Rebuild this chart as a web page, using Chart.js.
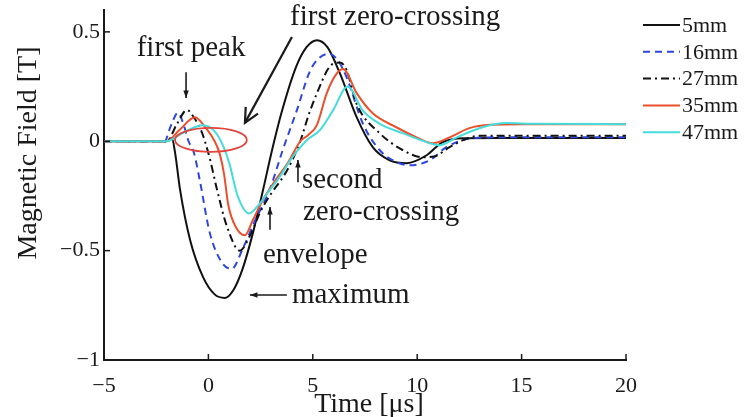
<!DOCTYPE html>
<html>
<head>
<meta charset="utf-8">
<script src="https://cdn.jsdelivr.net/npm/chart.js@4/dist/chart.umd.min.js"></script>
<style>
  html, body { margin: 0; padding: 0; background: #fff; }
  #wrap { width: 745px; height: 417px; }
</style>
</head>
<body>
<div id="wrap"><canvas id="fieldChart" width="745" height="417"></canvas></div>
<script>
// values: time [us] / field [T] per distance
const seriesLabels = ['5mm', '16mm', '27mm', '35mm', '47mm'];

const t5 = [-5, -2.0, -1.75, -1.6, -1.36, -0.88, -0.26, 0.3, 0.79, 1.2, 1.65, 2.13, 2.6, 3.05, 3.5, 4.2, 4.7, 5.2, 5.7, 6.3, 7.1, 7.87, 8.68, 9.5, 10.45, 11.2, 12.2, 14, 20];
const b5 = [0, 0, 0.015, -0.05, -0.22, -0.45, -0.62, -0.70, -0.716, -0.68, -0.58, -0.42, -0.23, -0.04, 0.13, 0.34, 0.43, 0.462, 0.43, 0.31, 0.11, -0.027, -0.087, -0.10, -0.064, -0.005, 0.014, 0.015, 0.015];

const t16 = [-5, -2.1, -1.8, -1.46, -1.2, -0.95, -0.7, -0.41, 0.07, 0.69, 1.12, 1.65, 2.2, 2.94, 3.56, 4.23, 4.86, 5.3, 5.8, 6.2, 6.63, 7.4, 8.2, 9.0, 9.64, 10.6, 11.4, 12.5, 14, 20];
const b16 = [0, 0, 0.07, 0.13, 0.08, 0.0, -0.05, -0.18, -0.42, -0.56, -0.583, -0.49, -0.37, -0.22, -0.04, 0.14, 0.32, 0.38, 0.40, 0.37, 0.29, 0.08, -0.04, -0.095, -0.11, -0.087, -0.027, 0.012, 0.018, 0.018];

const t27 = [-5, -2.0, -1.5, -1.03, -0.7, -0.31, 0.07, 0.41, 0.89, 1.5, 2.0, 2.5, 3.0, 3.6, 4.0, 4.4, 4.8, 5.2, 5.8, 6.3, 6.6, 7.1, 8.2, 9.3, 10.26, 10.8, 11.55, 12.2, 13, 20];
const b27 = [0, 0, 0.08, 0.143, 0.11, 0.04, -0.08, -0.22, -0.39, -0.50, -0.43, -0.32, -0.24, -0.16, -0.09, 0.0, 0.12, 0.22, 0.34, 0.36, 0.33, 0.17, 0.037, -0.04, -0.073, -0.07, -0.027, 0.005, 0.025, 0.025];

const t35 = [-5, -2.0, -1.4, -0.64, -0.2, 0.3, 0.55, 0.75, 0.95, 1.3, 1.75, 2.13, 2.6, 3.2, 3.8, 4.4, 4.8, 5.2, 5.67, 6.15, 6.45, 7.1, 7.87, 9.0, 9.97, 10.74, 11.55, 12.5, 13.5, 15, 20];
const b35 = [0, 0, 0.05, 0.11, 0.07, 0.0, -0.06, -0.15, -0.29, -0.39, -0.43, -0.36, -0.27, -0.18, -0.1, 0.0, 0.03, 0.075, 0.22, 0.31, 0.33, 0.22, 0.128, 0.064, 0.018, -0.009, 0.018, 0.06, 0.075, 0.078, 0.078];

const t47 = [-5, -2.0, -1.2, -0.26, 0.3, 0.7, 1.0, 1.4, 1.95, 2.46, 2.8, 3.4, 4.04, 4.71, 5.33, 5.96, 6.67, 7.4, 8.2, 9.3, 10.6, 11.07, 11.9, 13.13, 14.28, 15.5, 20];
const b47 = [0, 0, 0.04, 0.073, 0.045, -0.02, -0.1, -0.25, -0.33, -0.285, -0.24, -0.165, -0.07, 0.005, 0.05, 0.14, 0.25, 0.14, 0.08, 0.037, -0.009, -0.018, 0.018, 0.064, 0.083, 0.08, 0.078];

const xTickValues = [-5, 0, 5, 10, 15, 20];
const yTickValues = [-1, -0.5, 0, 0.5];

// annotation text and arrows, in data units
const notes = [
  { text: 'first peak', x: -0.83, y: 0.425, align: 'center' },
  { text: 'first zero-crossing', x: 3.91, y: 0.564, align: 'left' },
  { text: 'second', x: 4.48, y: -0.177, align: 'left' },
  { text: 'zero-crossing', x: 4.53, y: -0.323, align: 'left' },
  { text: 'envelope', x: 2.61, y: -0.52, align: 'left' },
  { text: 'maximum', x: 4.0, y: -0.703, align: 'left' },
];
const arrows = [
  { from: [4.0, 0.477], to: [1.75, 0.084], big: true },
  { from: [-1.07, 0.316], to: [-1.07, 0.198] },
  { from: [4.29, -0.187], to: [4.29, -0.086] },
  { from: [2.95, -0.405], to: [2.95, -0.30] },
  { from: [3.76, -0.703], to: [1.99, -0.703] },
];
const ring = { x: 0.12, y: 0.006, rx: 1.72, ry: 0.055 };

const SERIF = '"Liberation Serif", "DejaVu Serif", serif';
const INK = '#1a1a1a';

const toPoints = (xs, ys) => xs.map((x, i) => ({ x: x, y: ys[i] }));

const lineStyles = [
  { color: '#111111', dash: [] },
  { color: '#2f45e0', dash: [7, 5] },
  { color: '#111111', dash: [8, 4, 2, 4] },
  { color: '#ec4f2c', dash: [] },
  { color: '#45dcdc', dash: [] },
];
const allSeries = [[t5, b5], [t16, b16], [t27, b27], [t35, b35], [t47, b47]];

const datasets = allSeries.map((s, i) => ({
  label: seriesLabels[i],
  data: toPoints(s[0], s[1]),
  borderColor: lineStyles[i].color,
  borderDash: lineStyles[i].dash,
  borderWidth: 2,
  pointRadius: 0,
  cubicInterpolationMode: 'monotone',
  fill: false,
  order: allSeries.length - i,
}));

// axis titles, inward ticks, legend and annotations
const decorPlugin = {
  id: 'decor',
  afterDraw(chart) {
    const ctx = chart.ctx;
    const xs = chart.scales.x;
    const ys = chart.scales.y;
    const area = chart.chartArea;
    ctx.save();

    // inward tick marks
    ctx.strokeStyle = INK;
    ctx.lineWidth = 1.5;
    xTickValues.forEach((v) => {
      const px = xs.getPixelForValue(v);
      ctx.beginPath();
      ctx.moveTo(px, area.bottom);
      ctx.lineTo(px, area.bottom - 6);
      ctx.stroke();
    });
    yTickValues.forEach((v) => {
      const py = ys.getPixelForValue(v);
      ctx.beginPath();
      ctx.moveTo(area.left, py);
      ctx.lineTo(area.left + 6, py);
      ctx.stroke();
    });

    // axis titles
    ctx.fillStyle = INK;
    ctx.font = '28px ' + SERIF;
    ctx.textAlign = 'center';
    ctx.textBaseline = 'middle';
    ctx.fillText('Time [\u03bcs]', 369, 405);
    ctx.save();
    ctx.translate(29, 153);
    ctx.rotate(-Math.PI / 2);
    ctx.fillText('Magnetic Field [T]', 0, 0);
    ctx.restore();

    // legend
    ctx.font = '22px ' + SERIF;
    ctx.textAlign = 'left';
    chart.data.datasets.forEach((ds, i) => {
      const y = 25 + i * 26.8;
      ctx.strokeStyle = ds.borderColor;
      ctx.lineWidth = 2;
      ctx.setLineDash(ds.borderDash);
      ctx.beginPath();
      ctx.moveTo(643, y);
      ctx.lineTo(680, y);
      ctx.stroke();
      ctx.setLineDash([]);
      ctx.fillStyle = INK;
      ctx.fillText(ds.label, 682, y + 1);
    });

    // red ring round the first peaks
    const cx = xs.getPixelForValue(ring.x);
    const cy = ys.getPixelForValue(ring.y);
    const rx = xs.getPixelForValue(ring.x + ring.rx) - cx;
    const ry = cy - ys.getPixelForValue(ring.y + ring.ry);
    ctx.strokeStyle = '#e2443c';
    ctx.lineWidth = 1.8;
    ctx.beginPath();
    ctx.ellipse(cx, cy, rx, ry, 0, 0, Math.PI * 2);
    ctx.stroke();

    // arrows
    ctx.strokeStyle = INK;
    ctx.fillStyle = INK;
    arrows.forEach((a) => {
      const x0 = xs.getPixelForValue(a.from[0]);
      const y0 = ys.getPixelForValue(a.from[1]);
      const x1 = xs.getPixelForValue(a.to[0]);
      const y1 = ys.getPixelForValue(a.to[1]);
      const ang = Math.atan2(y1 - y0, x1 - x0);
      ctx.lineWidth = a.big ? 2.2 : 1.6;
      ctx.beginPath();
      ctx.moveTo(x0, y0);
      ctx.lineTo(x1, y1);
      ctx.stroke();
      if (a.big) {
        const h = 16;
        ctx.beginPath();
        ctx.moveTo(x1 + h * Math.cos(ang + Math.PI - 0.45), y1 + h * Math.sin(ang + Math.PI - 0.45));
        ctx.lineTo(x1, y1);
        ctx.lineTo(x1 + h * Math.cos(ang + Math.PI + 0.45), y1 + h * Math.sin(ang + Math.PI + 0.45));
        ctx.stroke();
      } else {
        const h = 8;
        ctx.beginPath();
        ctx.moveTo(x1, y1);
        ctx.lineTo(x1 + h * Math.cos(ang + Math.PI - 0.35), y1 + h * Math.sin(ang + Math.PI - 0.35));
        ctx.lineTo(x1 + h * Math.cos(ang + Math.PI + 0.35), y1 + h * Math.sin(ang + Math.PI + 0.35));
        ctx.closePath();
        ctx.fill();
      }
    });

    // annotation text
    ctx.font = '29px ' + SERIF;
    ctx.textBaseline = 'middle';
    notes.forEach((n) => {
      ctx.textAlign = n.align;
      ctx.fillText(n.text, xs.getPixelForValue(n.x), ys.getPixelForValue(n.y));
    });

    ctx.restore();
  },
};

new Chart(document.getElementById('fieldChart'), {
  type: 'line',
  data: { datasets: datasets },
  options: {
    responsive: false,
    animation: false,
    layout: { padding: { top: 10, right: 119, left: 0, bottom: 0 } },
    plugins: {
      legend: { display: false },
      tooltip: { enabled: false },
    },
    scales: {
      x: {
        type: 'linear',
        min: -5,
        max: 20,
        afterFit: (scale) => {
          scale.height = 57;
          scale.paddingLeft = 0;
          scale.paddingRight = 0;
        },
        afterBuildTicks: (scale) => { scale.ticks = xTickValues.map((v) => ({ value: v })); },
        grid: { display: true, drawOnChartArea: false, drawTicks: false },
        border: { display: true, color: INK, width: 2 },
        ticks: {
          padding: 13,
          color: INK,
          font: { family: SERIF, size: 22 },
          callback: (v) => String(v).replace('-', '\u2212'),
        },
      },
      y: {
        type: 'linear',
        min: -1,
        max: 0.6,
        afterFit: (scale) => {
          scale.width = 104;
          scale.paddingTop = 0;
          scale.paddingBottom = 0;
        },
        afterBuildTicks: (scale) => { scale.ticks = yTickValues.map((v) => ({ value: v })); },
        grid: { display: true, drawOnChartArea: false, drawTicks: false },
        border: { display: true, color: INK, width: 2 },
        ticks: {
          padding: 4,
          color: INK,
          font: { family: SERIF, size: 22 },
          callback: (v) => String(v).replace('-', '\u2212'),
        },
      },
    },
  },
  plugins: [decorPlugin],
});
</script>
</body>
</html>
